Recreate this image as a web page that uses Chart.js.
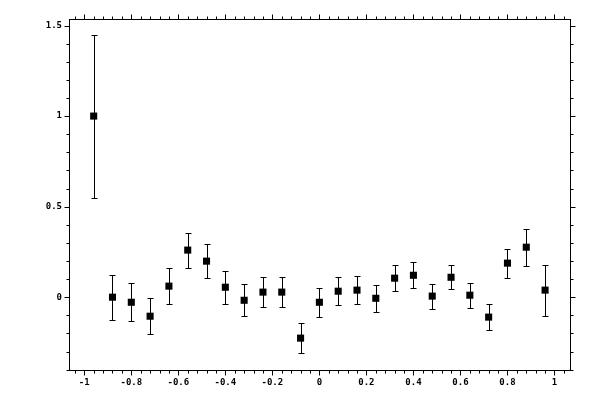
<!DOCTYPE html>
<html>
<head>
<meta charset="utf-8">
<script src="https://cdn.jsdelivr.net/npm/chart.js@4"></script>
<style>
  html, body { margin: 0; padding: 0; background: #fff; }
  #wrap { width: 600px; height: 400px; }
</style>
</head>
<body>
<div id="wrap"><canvas id="chart"></canvas></div>
<script>
// data
const xValues = [-0.96, -0.88, -0.80, -0.72, -0.64, -0.56, -0.48, -0.40, -0.32, -0.24, -0.16, -0.08,
                 0.00, 0.08, 0.16, 0.24, 0.32, 0.40, 0.48, 0.56, 0.64, 0.72, 0.80, 0.88, 0.96];
const yValues = [1.00, 0.00, -0.028, -0.105, 0.061, 0.26, 0.199, 0.055, -0.017, 0.028, 0.028, -0.226,
                 -0.028, 0.033, 0.039, -0.006, 0.105, 0.121, 0.006, 0.11, 0.011, -0.11, 0.188, 0.276, 0.039];
const yErrors = [0.45, 0.125, 0.105, 0.10, 0.10, 0.097, 0.095, 0.092, 0.088, 0.083, 0.083, 0.083,
                 0.08, 0.077, 0.077, 0.075, 0.073, 0.072, 0.069, 0.066, 0.069, 0.072, 0.08, 0.102, 0.141];

const xMajorTicks = [-1, -0.8, -0.6, -0.4, -0.2, 0, 0.2, 0.4, 0.6, 0.8, 1];
const yMajorTicks = [0, 0.5, 1, 1.5];
const xMinorStep = 0.04;
const yMinorStep = 0.1;

const X_MIN = -1.065, X_MAX = 1.066;
const Y_MIN = -0.402, Y_MAX = 1.536;

const points = xValues.map((x, i) => ({ x: x, y: yValues[i], err: yErrors[i] }));

function minorTicks(min, max, step) {
    const out = [];
    for (let v = Math.ceil(min / step) * step; v <= max + 1e-9; v += step) {
        out.push(Math.round(v * 1000) / 1000);
    }
    return out;
}

// error bars go under the markers
const errorBars = {
    id: 'errorBars',
    beforeDatasetsDraw(chart) {
        const { ctx, scales: { x, y } } = chart;
        ctx.save();
        ctx.strokeStyle = '#000';
        ctx.lineWidth = 1;
        points.forEach(p => {
            const px = Math.round(x.getPixelForValue(p.x)) + 0.5;
            const top = Math.round(y.getPixelForValue(p.y + p.err)) + 0.5;
            const bot = Math.round(y.getPixelForValue(p.y - p.err)) + 0.5;
            ctx.beginPath();
            ctx.moveTo(px, top); ctx.lineTo(px, bot);
            ctx.moveTo(px - 3, top); ctx.lineTo(px + 3, top);
            ctx.moveTo(px - 3, bot); ctx.lineTo(px + 3, bot);
            ctx.stroke();
        });
        ctx.restore();
    }
};

// box plus outward ticks on all four sides
const frame = {
    id: 'frame',
    afterDraw(chart) {
        const { ctx, chartArea: a, scales: { x, y } } = chart;
        const L = Math.round(a.left) + 0.5, R = Math.round(a.right) + 0.5;
        const T = Math.round(a.top) + 0.5, B = Math.round(a.bottom) + 0.5;
        ctx.save();
        ctx.strokeStyle = '#000';
        ctx.lineWidth = 1;
        ctx.strokeRect(L, T, R - L, B - T);
        ctx.beginPath();
        const xt = (v, len) => {
            const px = Math.round(x.getPixelForValue(v)) + 0.5;
            ctx.moveTo(px, T); ctx.lineTo(px, T - len);
            ctx.moveTo(px, B); ctx.lineTo(px, B + len);
        };
        const yt = (v, len) => {
            const py = Math.round(y.getPixelForValue(v)) + 0.5;
            ctx.moveTo(L, py); ctx.lineTo(L - len, py);
            ctx.moveTo(R, py); ctx.lineTo(R + len, py);
        };
        minorTicks(X_MIN, X_MAX, xMinorStep).forEach(v => xt(v, 3));
        minorTicks(Y_MIN, Y_MAX, yMinorStep).forEach(v => yt(v, 3));
        xMajorTicks.forEach(v => xt(v, 5));
        yMajorTicks.forEach(v => yt(v, 5));
        ctx.stroke();
        ctx.restore();
    }
};

const tickFont = { family: 'DejaVu Sans Mono', size: 9, weight: 'bold' };

new Chart(document.getElementById('chart'), {
    type: 'scatter',
    data: {
        datasets: [{
            data: points,
            pointStyle: 'rect',
            pointRadius: 5,
            pointHoverRadius: 5,
            backgroundColor: '#000',
            borderColor: '#000',
            borderWidth: 0
        }]
    },
    options: {
        responsive: true,
        maintainAspectRatio: false,
        animation: false,
        events: [],
        layout: { padding: { left: 0, top: 19, right: 30, bottom: 0 } },
        plugins: { legend: { display: false }, tooltip: { enabled: false } },
        scales: {
            x: {
                type: 'linear',
                min: X_MIN,
                max: X_MAX,
                afterBuildTicks: s => { s.ticks = xMajorTicks.map(v => ({ value: v })); },
                afterFit: s => { s.height = 30; },
                grid: { display: false, drawTicks: false },
                border: { display: false },
                ticks: { color: '#000', font: tickFont, padding: 7, maxRotation: 0, autoSkip: false,
                         callback: v => String(Math.round(v * 10) / 10) }
            },
            y: {
                type: 'linear',
                min: Y_MIN,
                max: Y_MAX,
                afterBuildTicks: s => { s.ticks = yMajorTicks.map(v => ({ value: v })); },
                afterFit: s => { s.width = 69; },
                grid: { display: false, drawTicks: false },
                border: { display: false },
                ticks: { color: '#000', font: tickFont, padding: 7, autoSkip: false,
                         callback: v => String(v) }
            }
        }
    },
    plugins: [errorBars, frame]
});
</script>
</body>
</html>
